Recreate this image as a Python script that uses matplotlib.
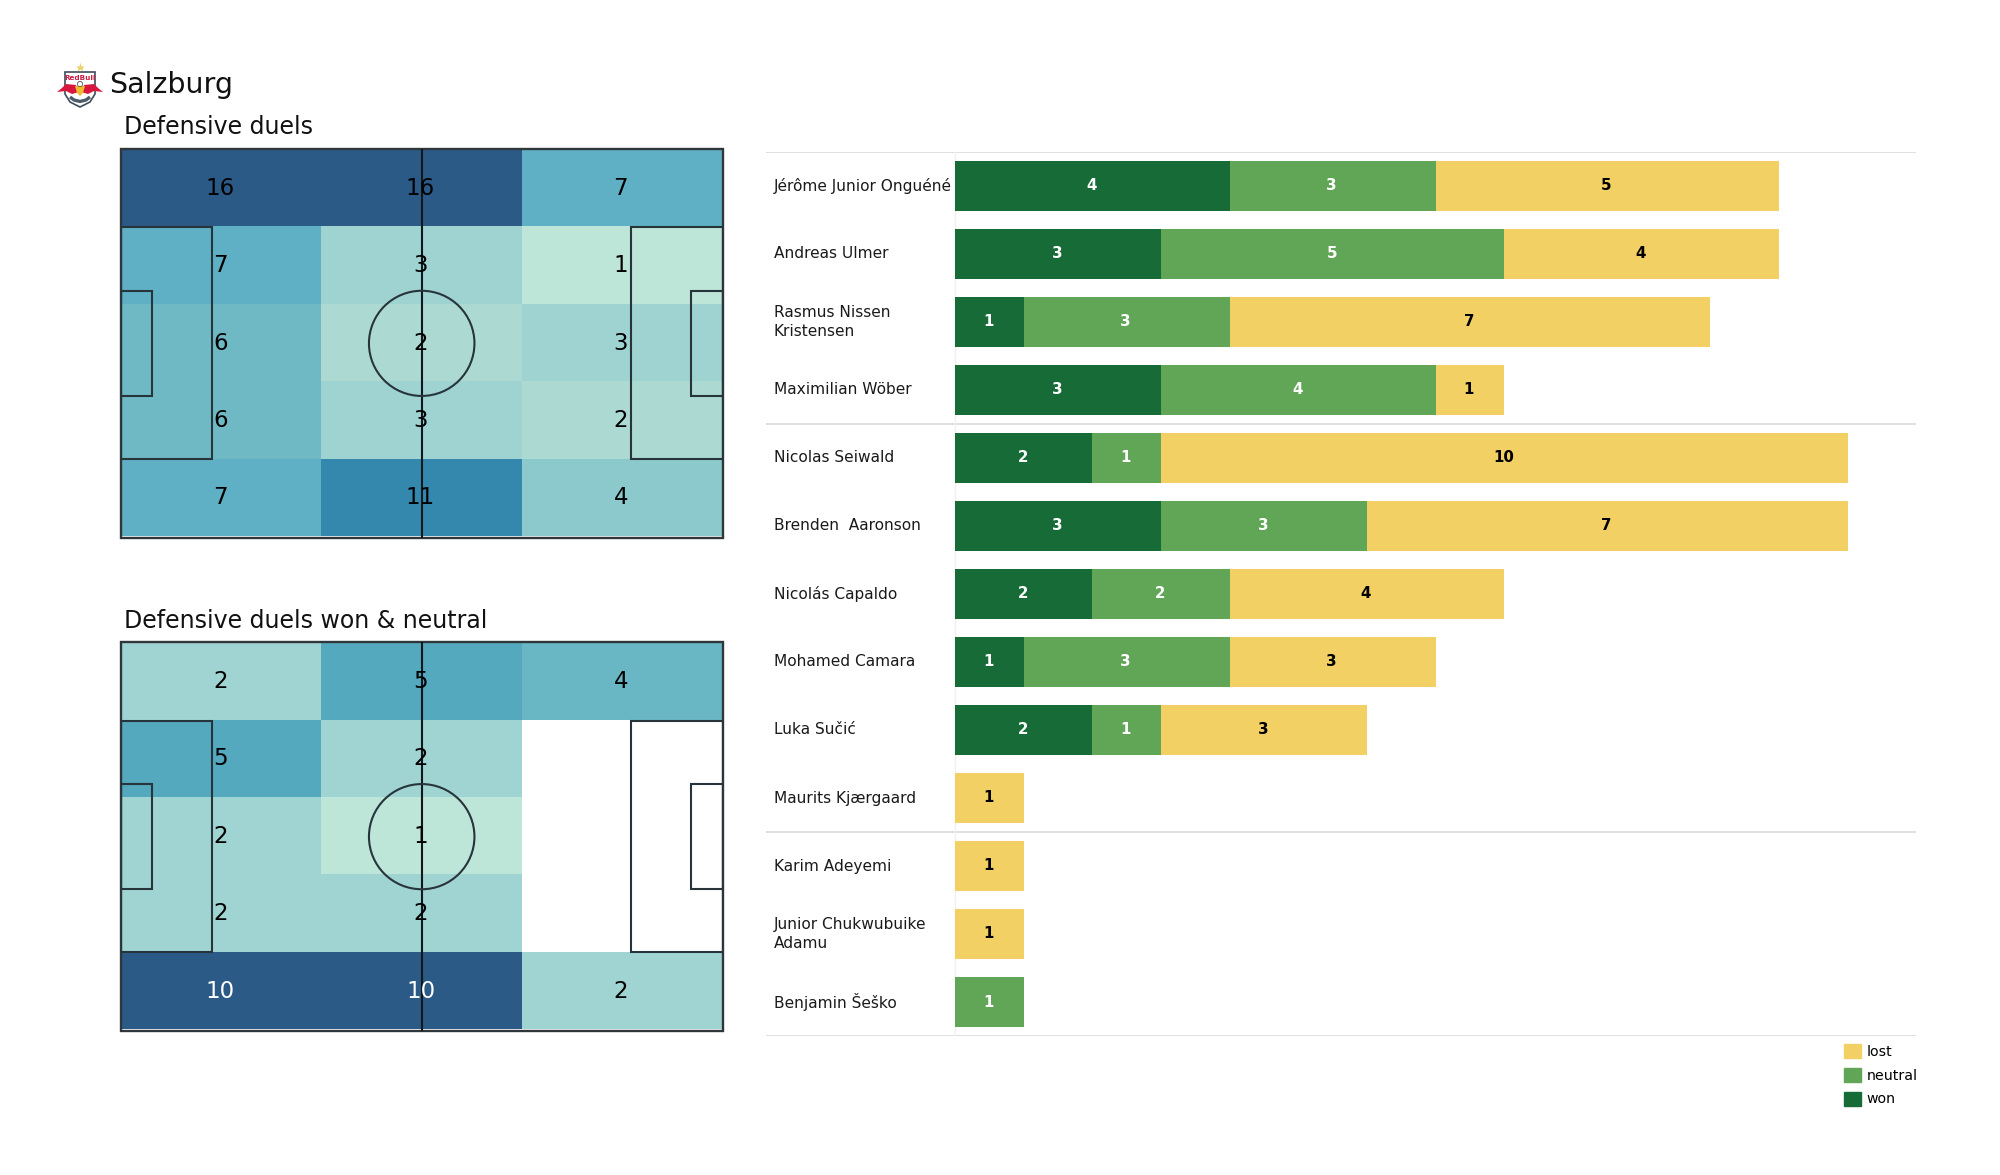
import matplotlib
matplotlib.use("Agg")
import matplotlib.pyplot as plt
from matplotlib.colors import LinearSegmentedColormap
from matplotlib.patches import Rectangle, Circle, Polygon, Patch
import numpy as np

W, H = 2000, 1175
team = "Salzburg"
title_a = "Defensive duels"
title_b = "Defensive duels won & neutral"
duels = [[16, 16, 7], [7, 3, 1], [6, 2, 3], [6, 3, 2], [7, 11, 4]]
duels_won = [[2, 5, 4], [5, 2, 0], [2, 1, 0], [2, 2, 0], [10, 10, 2]]

players = ["Jérôme Junior Onguéné", "Andreas Ulmer", "Rasmus Nissen\nKristensen",
           "Maximilian Wöber", "Nicolas Seiwald", "Brenden  Aaronson", "Nicolás Capaldo",
           "Mohamed Camara", "Luka Sučić", "Maurits Kjærgaard", "Karim Adeyemi",
           "Junior Chukwubuike\nAdamu", "Benjamin Šeško"]
won = [4, 3, 1, 3, 2, 3, 2, 1, 2, 0, 0, 0, 0]
neutral = [3, 5, 3, 4, 1, 3, 2, 3, 1, 0, 0, 0, 1]
lost = [5, 4, 7, 1, 10, 7, 4, 3, 3, 1, 1, 1, 0]
group_breaks = [3.5, 9.5]

C_WON, C_NEU, C_LOST = "#176b37", "#61a656", "#f2d064"
cmap = LinearSegmentedColormap.from_list("heat", [
    (0.0, "#c9ecdd"), (0.0625, "#bde5d8"), (0.1, "#bde5d8"), (0.125, "#acdad3"), (0.19, "#9ed3d2"),
    (0.2, "#a0d4d2"), (0.25, "#8cc9cd"), (0.375, "#6fb9c4"), (0.44, "#5fb0c4"), (0.5, "#54a9bf"),
    (0.69, "#3488ad"), (1.0, "#2b5a87")])

fig = plt.figure(figsize=(W / 100, H / 100), dpi=100, facecolor="white")


def axpx(x0, y0, x1, y1, **kw):
    return fig.add_axes([x0 / W, 1 - y1 / H, (x1 - x0) / W, (y1 - y0) / H], **kw)


def pitch(box, grid, title, title_xy):
    ax = axpx(*box)
    ax.set_xlim(0, 105)
    ax.set_ylim(68, 0)
    ax.axis("off")
    vals = np.array(grid)
    vmax = vals.max()
    xe = np.linspace(0, 105, 4)
    ye = np.linspace(0, 67.7, 6)
    dy = ye[1] - ye[0]
    for r in range(5):
        for c in range(3):
            v = vals[r, c]
            if v == 0:
                continue
            ax.add_patch(Rectangle((xe[c], ye[r]), 35, dy, fc=cmap(v / vmax), ec="none", zorder=1))
            ax.text(xe[c] + 17.4 - 0.1 * c, ye[r] + dy / 2 + 0.1, str(v), ha="center", va="center", fontsize=16.5,
                    color="white" if v / vmax > 0.75 and vmax == 10 else "black", zorder=4)
    lw = 1.5
    col = "#27353b"
    kw = dict(fc="none", ec=col, lw=lw, zorder=3)
    ax.add_patch(Rectangle((0, 0), 105, 68, clip_on=False, fc="none", ec="#2f373b", lw=1.7, zorder=3))
    ax.plot([52.5, 52.5], [0, 68], color="#10181c", lw=lw, zorder=3)
    ax.add_patch(Circle((52.5, 34), 9.2, **kw))
    for x, w in ((0, 16), (105 - 16, 16)):
        ax.add_patch(Rectangle((x, 13.7), w, 40.5, **kw))
    for x, w in ((0, 5.5), (105 - 5.5, 5.5)):
        ax.add_patch(Rectangle((x, 24.84), w, 18.32, **kw))
    fig.text(title_xy[0] / W, 1 - title_xy[1] / H, title, fontsize=17, ha="left", va="baseline", color="#111111")


pitch((120.7, 149, 722.7, 537.7), duels, title_a, (123.5, 134))
pitch((120.7, 642.3, 722.7, 1031), duels_won, title_b, (123.5, 628))

# club crest
lg = axpx(50, 60, 110, 112)
lg.set_xlim(50, 110)
lg.set_ylim(112, 60)
lg.axis("off")
lg.add_patch(Polygon([(65, 72), (95, 72), (95, 94), (90, 102), (80, 107), (70, 102), (65, 94)],
                     fc="white", ec="#3f4c5a", lw=1.2))
lg.text(80, 78, "RedBull", fontsize=5.2, fontweight="bold", color="#c81e45", ha="center", va="center")
lg.add_patch(Polygon([(57, 92), (62, 88), (66, 84), (76, 85), (79, 92), (72, 94), (66, 91)], fc="#d8173f", ec="none"))
lg.add_patch(Polygon([(103, 92), (98, 88), (94, 84), (84, 85), (81, 92), (88, 94), (94, 91)], fc="#d8173f", ec="none"))
lg.add_patch(Polygon([(75, 86), (85, 86), (83, 93), (80, 96), (77, 93)], fc="#f1b92f", ec="none"))
lg.add_patch(Circle((80, 84), 2.6, fc="white", ec="#333333", lw=0.5))
lg.plot([70, 74, 80, 86, 90], [97, 100, 101.5, 100, 97], color="#4f5b68", lw=2.4, solid_capstyle="butt")
lg.plot([80], [66.5], marker="*", ms=6.5, color="#ecd06a", mec="none")
fig.text(109 / W, 1 - 93 / H, team, fontsize=20.5, ha="left", va="baseline", color="#111111")

# bars
ax = axpx(766, 152, 1916, 1036)
ax.set_xlim(-189 / 68.67, 961 / 68.67)
ax.set_ylim(12.5, -0.5)
ax.axis("off")
y = np.arange(len(players))
won_a, neu_a, lost_a = map(np.array, (won, neutral, lost))
h = 0.74
ax.barh(y, won_a, height=h, color=C_WON, label="won", zorder=2)
ax.barh(y, neu_a, left=won_a, height=h, color=C_NEU, label="neutral", zorder=2)
ax.barh(y, lost_a, left=won_a + neu_a, height=h, color=C_LOST, label="lost", zorder=2)
for yy in [-0.5, *group_breaks, 12.5]:
    ax.axhline(yy, color="#dddddd", lw=1.3, zorder=1)
ax.plot([0, 0], [-0.5, 12.5], color="#f0f0f0", lw=1, zorder=1)
for i, name in enumerate(players):
    ax.text(-2.64, i, name, ha="left", va="center", fontsize=11.1, color="#1a1a1a", linespacing=1.38)
    left = 0
    for v, tc in ((won[i], "white"), (neutral[i], "white"), (lost[i], "black")):
        if v:
            ax.text(left + v / 2 - 0.015, i, str(v), ha="center", va="center", fontsize=10.8,
                    fontweight="bold", color=tc, zorder=3)
        left += v
handles = [Patch(color=C_LOST, label="lost"), Patch(color=C_NEU, label="neutral"), Patch(color=C_WON, label="won")]
fig.legend(handles=handles, loc="upper left", bbox_to_anchor=(1844.3 / W, 1 - 1044 / H), frameon=False,
           fontsize=10.2, handlelength=1.18, handleheight=1.16, handletextpad=0.4, labelspacing=0.63,
           borderpad=0, borderaxespad=0)
fig.savefig("out.png", dpi=100)
